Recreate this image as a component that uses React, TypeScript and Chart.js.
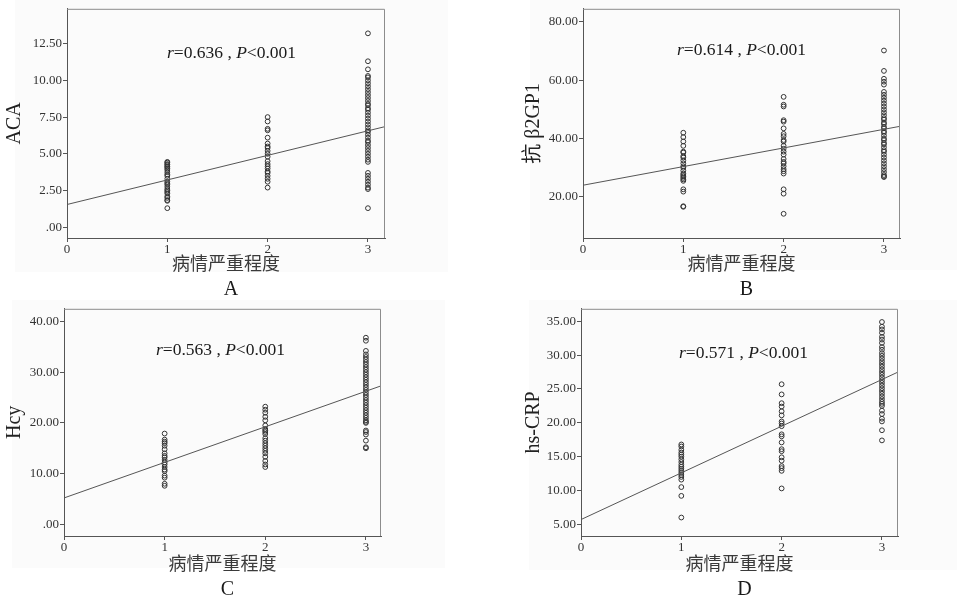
import React, { useEffect, useRef } from "react";
import { Chart, registerables } from "chart.js";
Chart.register(...registerables);

// ---------- data ----------
const xTickLabels = ["0", "1", "2", "3"];
const xTitle = "病情严重程度";

// Panel A: ACA
const acaG1 = [4.45, 4.4, 4.3, 4.25, 4.15, 4.1, 4.0, 3.9, 3.75, 3.6, 3.5, 3.3, 3.1, 3.0, 2.9, 2.75, 2.6, 2.5, 2.4, 2.3, 2.1, 2.0, 1.85, 1.8, 1.3];
const acaG2 = [7.5, 7.2, 6.7, 6.6, 6.1, 5.7, 5.5, 5.4, 5.2, 5.0, 4.8, 4.5, 4.3, 4.15, 4.0, 3.8, 3.7, 3.5, 3.3, 3.1, 2.7];
const acaG3 = [13.2, 11.3, 10.75, 10.3, 10.2, 10.0, 9.8, 9.6, 9.4, 9.2, 9.0, 8.8, 8.6, 8.4, 8.3, 8.1, 8.0, 7.8, 7.6, 7.4, 7.2, 7.0, 6.8, 6.6, 6.5, 6.3, 6.1, 5.9, 5.8, 5.6, 5.4, 5.2, 5.0, 4.8, 4.6, 4.45, 3.7, 3.5, 3.3, 3.1, 2.9, 2.7, 2.6, 1.3];
const acaLine = [1.55, 6.85];

// Panel B: 抗β2GP1
const b2G1 = [42, 40.5, 39, 37.5, 35.5, 35.2, 34, 33.5, 32.5, 31.5, 30.5, 30, 29, 28, 27.5, 27, 26.5, 26, 25.5, 22.6, 21.8, 16.8, 16.6];
const b2G2 = [54.3, 51.6, 51, 46.3, 45.8, 43.5, 41.6, 40.8, 39.5, 39, 37.5, 36.5, 35.5, 34.5, 33, 32, 31.5, 30.5, 29.5, 28.8, 28, 22.6, 21.1, 14.2];
const b2G3 = [70.2, 63.2, 60.5, 59.5, 58.5, 56, 55, 54, 53, 52, 51, 50, 49, 48, 47, 46.5, 45.5, 45, 44, 43.5, 42.5, 42, 41, 40, 39.5, 38.5, 38, 37, 36, 35.5, 34.5, 33.5, 32.5, 31.5, 30.5, 29.5, 28.5, 27.5, 27, 26.8];
const b2Line = [24.0, 44.2];

// Panel C: Hcy
const hcyG1 = [17.9, 16.7, 16.3, 16.0, 15.5, 14.8, 14.0, 13.5, 13.2, 12.7, 12.2, 11.8, 11.3, 10.8, 10.5, 9.6, 9.2, 8.0, 7.6];
const hcyG2 = [23.2, 22.6, 22.0, 21.2, 20.5, 19.5, 18.8, 18.5, 18.2, 17.8, 17.0, 16.5, 16.0, 15.5, 15.0, 14.5, 14.0, 13.3, 12.5, 11.8, 11.3];
const hcyG3 = [36.8, 36.2, 34.2, 33.5, 33, 32.5, 32, 31.5, 31, 30.5, 30, 29.5, 29, 28.5, 28, 27.5, 27, 26.5, 26, 25.5, 25, 24.5, 24, 23.5, 23, 22.5, 22, 21.5, 21, 20.5, 20.2, 20, 18.5, 18.2, 17.7, 16.5, 15.2, 15];
const hcyLine = [5.2, 27.3];

// Panel D: hs-CRP
const crpG1 = [16.8, 16.5, 16.0, 15.6, 15.3, 15.0, 14.6, 14.2, 13.8, 13.5, 13.2, 12.9, 12.6, 12.3, 12.0, 11.6, 10.5, 9.2, 6.0];
const crpG2 = [25.7, 24.2, 22.9, 22.4, 21.7, 21.1, 20.2, 19.9, 19.5, 18.3, 18.0, 17.1, 16.1, 15.8, 14.9, 14.4, 13.6, 13.3, 12.9, 10.3];
const crpG3 = [34.9, 34.2, 33.8, 33.3, 32.7, 32.3, 31.8, 31.2, 30.8, 30.3, 29.9, 29.5, 29.1, 28.7, 28.3, 27.9, 27.5, 27.1, 26.7, 26.3, 25.9, 25.5, 25.1, 24.7, 24.3, 23.9, 23.5, 23.1, 22.8, 22.5, 21.8, 21.3, 20.6, 20.2, 18.9, 17.4];
const crpLine = [5.7, 27.5];

const rValues = ["0.636", "0.614", "0.563", "0.571"];
const pText = "<0.001";
const panelLetters = ["A", "B", "C", "D"];
const yTitles = ["ACA", "抗 β2GP1", "Hcy", "hs-CRP"];

// ---------- styling / layout ----------
const SERIF = "'Liberation Serif', 'Noto Sans CJK SC', serif";
const CJK = "'Noto Sans CJK SC', sans-serif";

type PanelCfg = {
  groups: number[][];
  line: number[];
  yTitle: string;
  r: string;
  letter: string;
  ymin: number;
  ymax: number;
  ystep: number;
  xmax: number;
  left: number;
  top: number;
  w: number;
  h: number;
  pad: { left: number; top: number; right: number; bottom: number };
  yWidth: number;
  xHeight: number;
  yTitlePad: number;
  annX: number;
  annY: number;
  bg: { x: number; y: number; w: number; h: number };
};

const panels: PanelCfg[] = [
  {
    groups: [acaG1, acaG2, acaG3], line: acaLine, yTitle: yTitles[0], r: rValues[0], letter: panelLetters[0],
    ymin: -0.73, ymax: 14.87, ystep: 2.5, xmax: 3.17,
    left: 0, top: 0, w: 450, h: 300, pad: { left: 0, top: 4, right: 65, bottom: 0 },
    yWidth: 67, xHeight: 62, yTitlePad: 3, annX: 100, annY: 45,
    bg: { x: 15, y: 0, w: 433, h: 272 },
  },
  {
    groups: [b2G1, b2G2, b2G3], line: b2Line, yTitle: yTitles[1], r: rValues[1], letter: panelLetters[1],
    ymin: 5.9, ymax: 84.5, ystep: 20, xmax: 3.16,
    left: 477, top: 0, w: 480, h: 300, pad: { left: 0, top: 4, right: 57, bottom: 0 },
    yWidth: 106, xHeight: 62, yTitlePad: 45, annX: 94, annY: 42,
    bg: { x: 530, y: 0, w: 427, h: 270 },
  },
  {
    groups: [hcyG1, hcyG2, hcyG3], line: hcyLine, yTitle: yTitles[2], r: rValues[2], letter: panelLetters[2],
    ymin: -2.3, ymax: 42.5, ystep: 10, xmax: 3.15,
    left: 0, top: 300, w: 450, h: 300, pad: { left: 0, top: 3, right: 69, bottom: 0 },
    yWidth: 64, xHeight: 64, yTitlePad: 3, annX: 92, annY: 42,
    bg: { x: 12, y: 300, w: 433, h: 268 },
  },
  {
    groups: [crpG1, crpG2, crpG3], line: crpLine, yTitle: yTitles[3], r: rValues[3], letter: panelLetters[3],
    ymin: 3.27, ymax: 36.85, ystep: 5, xmax: 3.16,
    left: 477, top: 300, w: 480, h: 300, pad: { left: 0, top: 3, right: 59, bottom: 0 },
    yWidth: 104, xHeight: 64, yTitlePad: 45, annX: 98, annY: 45,
    bg: { x: 529, y: 300, w: 428, h: 270 },
  },
];

const decorPlugin = {
  id: "decor",
  afterDraw(chart: any, _args: any, opts: any) {
    const { ctx, chartArea: a } = chart;
    ctx.save();
    // box
    ctx.strokeStyle = "#8c8c8c";
    ctx.lineWidth = 1;
    ctx.beginPath();
    ctx.moveTo(a.left, a.top + 0.5);
    ctx.lineTo(a.right - 0.5, a.top + 0.5);
    ctx.lineTo(a.right - 0.5, a.bottom);
    ctx.stroke();
    // annotation
    const x0 = a.left + opts.annX;
    const y0 = a.top + opts.annY;
    ctx.fillStyle = "#1a1a1a";
    ctx.textBaseline = "middle";
    ctx.textAlign = "left";
    const parts: [string, boolean][] = [
      ["r", true],
      ["=" + opts.r + " , ", false],
      ["P", true],
      [pText, false],
    ];
    let x = x0;
    for (const [t, it] of parts) {
      ctx.font = (it ? "italic " : "") + "17.5px " + SERIF;
      ctx.fillText(t, x, y0);
      x += ctx.measureText(t).width;
    }
    // panel letter
    ctx.font = "20px " + SERIF;
    ctx.textAlign = "center";
    ctx.fillText(opts.letter, (a.left + a.right) / 2 + 5, 290);
    ctx.restore();
  },
};

function fmtY(v: number) {
  if (Math.abs(v) < 1e-9) return ".00";
  return v.toFixed(2);
}

function Panel({ cfg }: { cfg: PanelCfg }) {
  const ref = useRef<HTMLCanvasElement | null>(null);
  useEffect(() => {
    if (!ref.current) return;
    const pts = cfg.groups.flatMap((g, i) => g.map((v) => ({ x: i + 1, y: v })));
    const linePts = [
      { x: 0, y: cfg.line[0] },
      { x: cfg.xmax, y: cfg.line[1] },
    ];
    const chart = new Chart(ref.current, {
      type: "scatter",
      data: {
        datasets: [
          {
            type: "line" as any,
            data: linePts,
            borderColor: "#555",
            borderWidth: 1,
            pointRadius: 0,
            fill: false,
            tension: 0,
          } as any,
          {
            data: pts,
            pointStyle: "circle",
            pointRadius: 2.4,
            pointBorderWidth: 1,
            borderColor: "#333",
            backgroundColor: "rgba(0,0,0,0)",
            pointBackgroundColor: "rgba(0,0,0,0)",
            pointBorderColor: "#333",
          } as any,
        ],
      },
      options: {
        responsive: false,
        animation: false,
        events: [],
        layout: { padding: cfg.pad },
        plugins: {
          legend: { display: false },
          tooltip: { enabled: false },
          decor: { annX: cfg.annX, annY: cfg.annY, r: cfg.r, letter: cfg.letter },
        } as any,
        scales: {
          x: {
            type: "linear",
            min: 0,
            max: cfg.xmax,
            afterFit: (s: any) => {
              s.height = cfg.xHeight;
            },
            border: { display: true, color: "#555", width: 1 },
            grid: { display: true, drawOnChartArea: false, drawTicks: true, tickLength: 4, color: "#555" },
            ticks: {
              stepSize: 1,
              includeBounds: false,
              padding: 0,
              color: "#333",
              font: { family: SERIF, size: 13 },
              maxRotation: 0,
              callback: (v: any) => xTickLabels[Math.round(Number(v))] ?? "",
            },
            title: {
              display: true,
              text: xTitle,
              color: "#3a3a3a",
              font: { family: CJK, size: 18 },
              padding: { top: 0, bottom: 26 },
            },
          },
          y: {
            type: "linear",
            min: cfg.ymin,
            max: cfg.ymax,
            afterFit: (s: any) => {
              s.width = cfg.yWidth;
            },
            border: { display: true, color: "#555", width: 1 },
            grid: { display: true, drawOnChartArea: false, drawTicks: true, tickLength: 4, color: "#555" },
            ticks: {
              stepSize: cfg.ystep,
              includeBounds: false,
              padding: 1,
              color: "#333",
              font: { family: SERIF, size: 13 },
              callback: (v: any) => fmtY(Number(v)),
            },
            title: {
              display: true,
              text: cfg.yTitle,
              color: "#222",
              font: { family: SERIF, size: 20 },
              padding: { top: cfg.yTitlePad, bottom: 0 },
            },
          },
        },
      },
      plugins: [decorPlugin],
    });
    return () => chart.destroy();
  }, [cfg]);
  return (
    <canvas
      ref={ref}
      width={cfg.w}
      height={cfg.h}
      style={{ position: "absolute", left: cfg.left, top: cfg.top, width: cfg.w, height: cfg.h }}
    />
  );
}

export default function App() {
  return (
    <div style={{ position: "absolute", left: 0, top: 0, width: 957, height: 600, background: "#fff", overflow: "hidden" }}>
      {panels.map((p, i) => (
        <div
          key={"bg" + i}
          style={{ position: "absolute", left: p.bg.x, top: p.bg.y, width: p.bg.w, height: p.bg.h, background: "#fbfbfb" }}
        />
      ))}
      {panels.map((p, i) => (
        <Panel key={i} cfg={p} />
      ))}
    </div>
  );
}
